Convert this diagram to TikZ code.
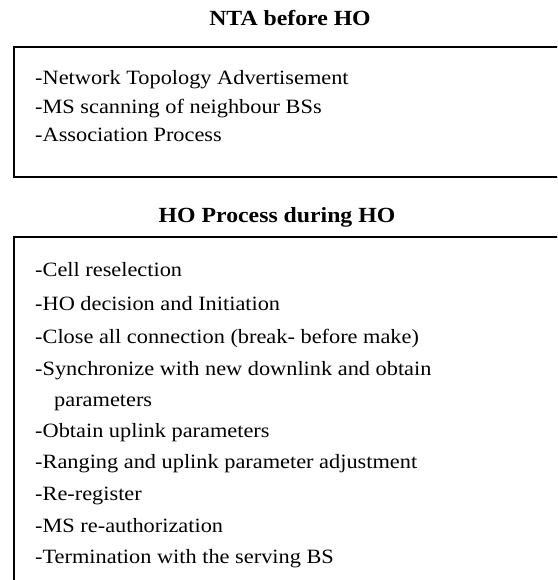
\documentclass[tikz,border=0pt]{standalone}
\usepackage{fontspec}
\setmainfont{Liberation Serif}[FakeStretch=1.1]
\begin{document}
\begin{tikzpicture}[x=1pt,y=-1pt,
  head/.style={anchor=base,inner sep=0pt,font=\fontsize{21.6}{24}\selectfont\bfseries},
  item/.style={anchor=base west,inner sep=0pt,font=\fontsize{20.3}{24}\selectfont},
  frame/.style={line width=1.3pt}]
\useasboundingbox (0,0) rectangle (557,580);
\clip (0,0) rectangle (557,580);
% before HO
\node[head] (nta) at (290,26) {NTA before HO};
\draw[frame] (14,47) rectangle (580,177);
\node[item] (nta1) at (35,85) {-Network Topology Advertisement};
\node[item] (nta2) at (35,114) {-MS scanning of neighbour BSs};
\node[item] (nta3) at (35,142) {-Association Process};
% during HO
\node[head] (hop) at (277,222) {HO Process during HO};
\draw[frame] (14,237) rectangle (580,600);
\node[item] (hop1) at (35,276) {-Cell reselection};
\node[item] (hop2) at (35,310) {-HO decision and Initiation};
\node[item] (hop3) at (35,343) {-Close all connection (break- before make)};
\node[item] (hop4) at (35,375) {-Synchronize with new downlink and obtain};
\node[item] (hop4b) at (54,406) {parameters};
\node[item] (hop5) at (35,437) {-Obtain uplink parameters};
\node[item] (hop6) at (35,468) {-Ranging and uplink parameter adjustment};
\node[item] (hop7) at (35,500) {-Re-register};
\node[item] (hop8) at (35,532) {-MS re-authorization};
\node[item] (hop9) at (35,563) {-Termination with the serving BS};
\end{tikzpicture}
\end{document}
